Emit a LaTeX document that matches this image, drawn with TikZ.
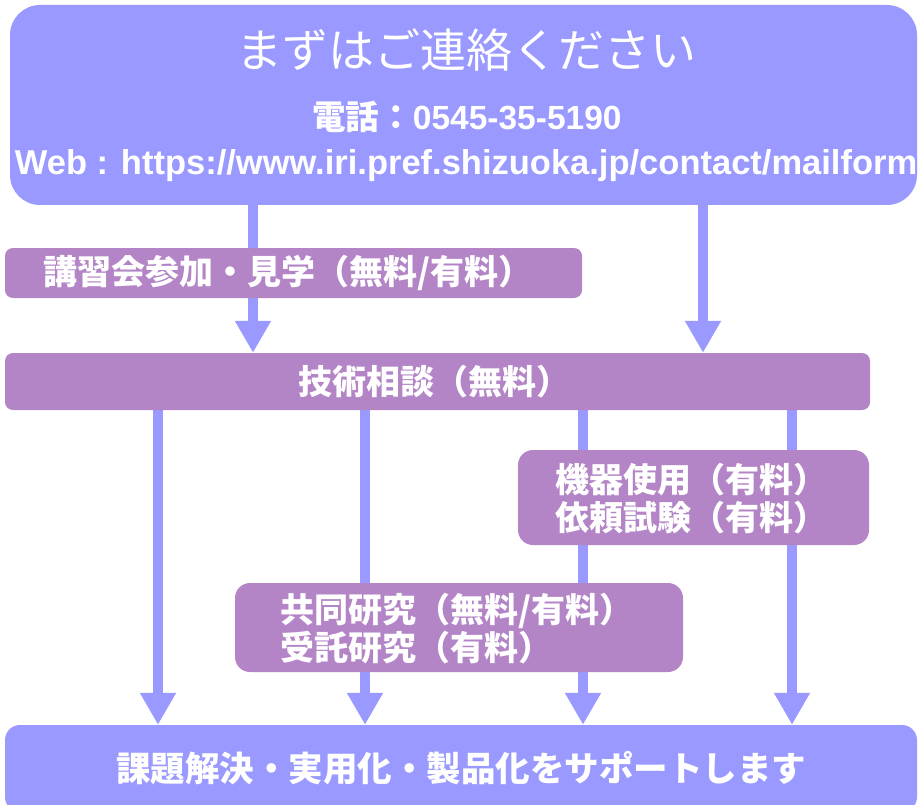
\documentclass[tikz,border=0pt]{standalone}
\usepackage{fontspec}
\setmainfont{Liberation Sans}
\newfontfamily\jp{Noto Sans CJK JP}
\usetikzlibrary{arrows.meta}
\definecolor{bluebox}{HTML}{9999FF}
\definecolor{purplebox}{HTML}{B385C7}
\pgfdeclarelayer{bg}
\pgfsetlayers{bg,main}
\begin{document}
\begin{tikzpicture}[x=1pt,y=-1pt,
  bbox/.style={fill=bluebox, draw=none, inner sep=0pt},
  pbox/.style={fill=purplebox, draw=none, inner sep=0pt},
  wtext/.style={text=white, inner sep=0pt},
  jpb/.style={font={\jp\bfseries\fontsize{34}{38}\selectfont}},
  arr/.style={draw=bluebox, line width=10pt, -{Triangle[width=34pt,length=32pt]}}
]
\useasboundingbox (0,0) rectangle (918,805);

% boxes
\node[bbox, rounded corners=30pt, minimum width=907pt, minimum height=200pt] (top) at (463.5,105) {};
\node[pbox, rounded corners=8pt, minimum width=577pt, minimum height=50pt] (lect) at (293.5,273) {};
\node[pbox, rounded corners=8pt, minimum width=865pt, minimum height=57pt] (tech) at (437.5,381.5) {};
\node[pbox, rounded corners=15pt, minimum width=351pt, minimum height=95pt] (kiki) at (693.5,497.5) {};
\node[pbox, rounded corners=15pt, minimum width=448pt, minimum height=89pt] (kyodo) at (459,627.5) {};
\node[bbox, rounded corners=15pt, minimum width=912pt, minimum height=87pt] (goal) at (461,768.5) {};

% texts
\node[wtext, font={\jp\fontsize{46}{50}\selectfont}] (title) at (466,50) {まずはご連絡ください};
\node[wtext, font={\bfseries\fontsize{33.5}{36}\selectfont}] (tel) at (467,117) {{\jp 電話：}0545-35-5190};
\node[wtext, font={\bfseries\fontsize{34.5}{36}\selectfont}] (web) at (466,166) {Web : https://www.iri.pref.shizuoka.jp/contact/mailform};
\node[wtext, jpb] (lectt) at (288,273) {講習会参加・見学（無料/有料）};
\node[wtext, jpb] (techt) at (434,382) {技術相談（無料）};
\node[wtext, jpb, align=left] (kikit) at (691,499) {機器使用（有料）\\依頼試験（有料）};
\node[wtext, jpb, align=left] (kyodot) at (457,629) {共同研究（無料/有料）\\受託研究（有料）};
\node[wtext, font={\jp\bfseries\fontsize{34.5}{38}\selectfont}] (goalt) at (461,768) {課題解決・実用化・製品化をサポートします};

% connectors
\begin{pgfonlayer}{bg}
\draw[arr] (253,0 |- top.south) -- (253,0 |- tech.north);
\draw[arr] (703,0 |- top.south) -- (703,0 |- tech.north);
\draw[arr] (158,0 |- tech.south) -- (158,0 |- goal.north);
\draw[arr] (365,0 |- tech.south) -- (365,0 |- goal.north);
\draw[arr] (583,0 |- tech.south) -- (583,0 |- goal.north);
\draw[arr] (792,0 |- tech.south) -- (792,0 |- goal.north);
\end{pgfonlayer}
\end{tikzpicture}
\end{document}
